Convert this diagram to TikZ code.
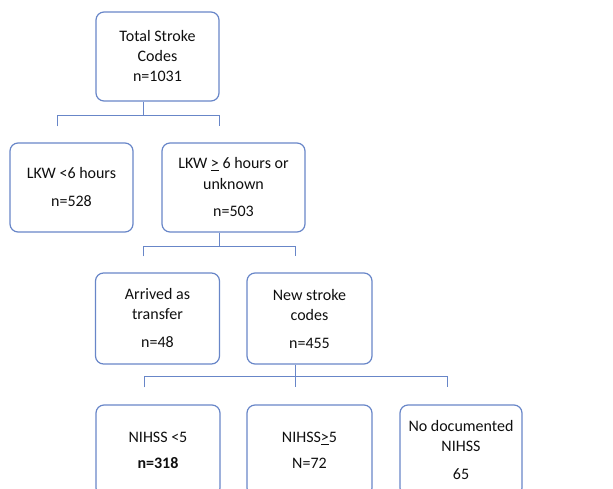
\documentclass[tikz,border=0pt]{standalone}
\usepackage{fontspec}
\setmainfont{Carlito}
\definecolor{boxblue}{RGB}{104,134,200}
\definecolor{txt}{RGB}{15,15,15}
\tikzset{
  box/.style={draw=boxblue, line width=1.2pt, rounded corners=8pt, align=center,
    text=txt, font=\fontsize{16}{20}\selectfont, inner sep=2pt},
  link/.style={draw=boxblue, line width=1pt}
}
\begin{document}
\begin{tikzpicture}[x=1pt, y=-1pt]
  \useasboundingbox (0,0) rectangle (613,489);
  \clip (0,0) rectangle (613,489);
  % boxes, top to bottom
  \node[box, minimum width=123pt, minimum height=89pt] (total) at (157.5,56.5) {Total Stroke\\Codes\\n=1031};
  \node[box, minimum width=123pt, minimum height=89pt] (early) at (71.5,187.5) {LKW <6 hours\\[8pt]n=528};
  \node[box, minimum width=143pt, minimum height=89pt] (late) at (233.5,187.5) {LKW \underline{>} 6 hours or\\unknown\\[8pt]n=503};
  \node[box, minimum width=124pt, minimum height=91pt] (transfer) at (157.5,318.5) {Arrived as\\transfer\\[8pt]n=48};
  \node[box, minimum width=125pt, minimum height=91pt] (newcodes) at (309.5,318.5) {New stroke\\codes\\[8pt]n=455};
  \node[box, minimum width=124pt, minimum height=91pt] (mild) at (158,450.5) {NIHSS <5\\[6pt]\textbf{n=318}};
  \node[box, minimum width=125pt, minimum height=91pt] (severe) at (309.5,450.5) {NIHSS\underline{>}5\\[6pt]N=72};
  \node[box, minimum width=122pt, minimum height=91pt] (nodoc) at (461,450.5) {No documented\\NIHSS\\[8pt]65};
  % elbow connectors
  \draw[link] ([xshift=-14pt]total.south) -- ++(0,14) coordinate (j1);
  \draw[link] ([xshift=-14pt,yshift=16pt]early.north) |- (j1) -| ([xshift=-14pt,yshift=16pt]late.north);
  \draw[link] ([xshift=-14pt]late.south) -- ++(0,14) coordinate (j2);
  \draw[link] ([xshift=-14pt,yshift=16pt]transfer.north) |- (j2) -| ([xshift=-14pt,yshift=16pt]newcodes.north);
  \draw[link] ([xshift=-14pt]newcodes.south) -- ++(0,12) coordinate (j3);
  \draw[link] ([xshift=-14pt,yshift=17pt]mild.north) |- (j3) -| ([xshift=-14pt,yshift=17pt]nodoc.north);
  \draw[link] (j3) -- ([xshift=-14pt,yshift=17pt]severe.north);
\end{tikzpicture}
\end{document}
